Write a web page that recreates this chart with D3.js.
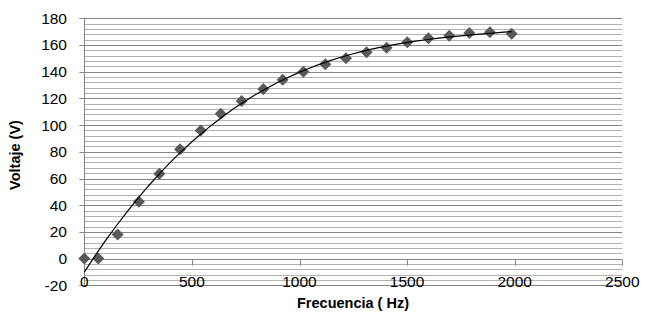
<!DOCTYPE html>
<html>
<head>
<meta charset="utf-8">
<script src="https://cdn.jsdelivr.net/npm/d3@7/dist/d3.min.js"></script>
<style>
  html, body { margin: 0; padding: 0; background: #fff; }
  svg { display: block; }
  text { font-family: "Liberation Sans", Arial, sans-serif; }
</style>
</head>
<body>
<svg id="chart" width="656" height="322"></svg>
<script>
// Measured output voltage versus frequency
const frecuencia = [0, 65, 155, 254, 349, 445, 541, 634, 731, 832, 922, 1018, 1120, 1216, 1312, 1405, 1501, 1599, 1696, 1789, 1885, 1986];
const voltaje    = [0, 0, 18, 42.5, 63.5, 82, 96, 108.5, 118, 127, 134, 140, 145.5, 150, 154.5, 158, 162, 165, 167, 169, 169.5, 168.5];

const xTicks = [0, 500, 1000, 1500, 2000, 2500];
const yTicks = [-20, 0, 20, 40, 60, 80, 100, 120, 140, 160, 180];
const yMinorStep = 4;
const trendOrder = 3;

const svg = d3.select("#chart");
const plotLeft = 84.3, plotRight = 622.3, plotTop = 18.3, plotBottom = 285.3;

const x = d3.scaleLinear().domain([0, 2500]).range([plotLeft, plotRight]);
const y = d3.scaleLinear().domain([-20, 180]).range([plotBottom, plotTop]);

// Minor gridlines
const minor = d3.range(-20, 180.001, yMinorStep).filter(v => Math.abs(v % 20) > 1e-6);
svg.append("g").selectAll("line").data(minor).join("line")
  .attr("x1", plotLeft).attr("x2", plotRight)
  .attr("y1", d => Math.round(y(d)) + 0.5).attr("y2", d => Math.round(y(d)) + 0.5)
  .attr("stroke", "#b3b3b3").attr("stroke-width", 1);

// Major gridlines with left tick marks
svg.append("g").selectAll("line").data(yTicks).join("line")
  .attr("x1", plotLeft - 5).attr("x2", plotRight)
  .attr("y1", d => Math.round(y(d)) + 0.5).attr("y2", d => Math.round(y(d)) + 0.5)
  .attr("stroke", "#868686").attr("stroke-width", 1);

// Vertical axis line
svg.append("line")
  .attr("x1", Math.round(plotLeft) + 0.5).attr("x2", Math.round(plotLeft) + 0.5)
  .attr("y1", Math.round(plotTop) + 0.5).attr("y2", Math.round(plotBottom) + 0.5)
  .attr("stroke", "#868686");

// Horizontal axis through zero with downward ticks
const y0 = Math.round(y(0)) + 0.5;
svg.append("g").selectAll("line").data(xTicks).join("line")
  .attr("x1", d => Math.round(x(d)) + 0.5).attr("x2", d => Math.round(x(d)) + 0.5)
  .attr("y1", y0).attr("y2", y0 + 6)
  .attr("stroke", "#868686");

// Y tick labels
svg.append("g").selectAll("text").data(yTicks).join("text")
  .attr("x", 67).attr("y", d => y(d))
  .attr("dy", "0.35em")
  .attr("text-anchor", "end")
  .attr("font-size", 15.5).attr("fill", "#000")
  .text(d => d);

// X tick labels
svg.append("g").selectAll("text").data(xTicks).join("text")
  .attr("x", d => x(d)).attr("y", 287)
  .attr("text-anchor", "middle")
  .attr("font-size", 15.5).attr("fill", "#000")
  .text(d => d);

// Axis titles
svg.append("text")
  .attr("transform", "translate(20,155) rotate(-90)")
  .attr("text-anchor", "middle")
  .attr("font-size", 14.5).attr("font-weight", "bold")
  .text("Voltaje (V)");

svg.append("text")
  .attr("x", 353).attr("y", 308)
  .attr("text-anchor", "middle")
  .attr("font-size", 14.5).attr("font-weight", "bold")
  .text("Frecuencia ( Hz)");

// Data markers
const diamond = d3.symbol().type(d3.symbolSquare).size(72);
svg.append("g").selectAll("path").data(frecuencia.map((f, i) => [f, voltaje[i]])).join("path")
  .attr("d", diamond)
  .attr("transform", d => `translate(${x(d[0])},${y(d[1])}) rotate(45)`)
  .attr("fill", "#595959");

// Least-squares polynomial trendline
function polyfit(xs, ys, order) {
  const n = order + 1;
  const A = Array.from({length: n}, () => new Array(n + 1).fill(0));
  for (let k = 0; k < xs.length; k++) {
    const xv = xs[k] / 1000;
    for (let i = 0; i < n; i++) {
      for (let j = 0; j < n; j++) A[i][j] += Math.pow(xv, i + j);
      A[i][n] += ys[k] * Math.pow(xv, i);
    }
  }
  for (let c = 0; c < n; c++) {
    let p = c;
    for (let r = c + 1; r < n; r++) if (Math.abs(A[r][c]) > Math.abs(A[p][c])) p = r;
    [A[c], A[p]] = [A[p], A[c]];
    for (let r = 0; r < n; r++) {
      if (r === c) continue;
      const f = A[r][c] / A[c][c];
      for (let k = c; k <= n; k++) A[r][k] -= f * A[c][k];
    }
  }
  const coef = A.map((row, i) => row[n] / row[i]);
  return v => coef.reduce((s, c, i) => s + c * Math.pow(v / 1000, i), 0);
}
const trend = polyfit(frecuencia, voltaje, trendOrder);
const xs = d3.range(0, d3.max(frecuencia) + 0.001, d3.max(frecuencia) / 40);
svg.append("path")
  .datum(xs)
  .attr("d", d3.line().x(d => x(d)).y(d => y(trend(d))))
  .attr("fill", "none").attr("stroke", "#000").attr("stroke-width", 1.2);
</script>
</body>
</html>
